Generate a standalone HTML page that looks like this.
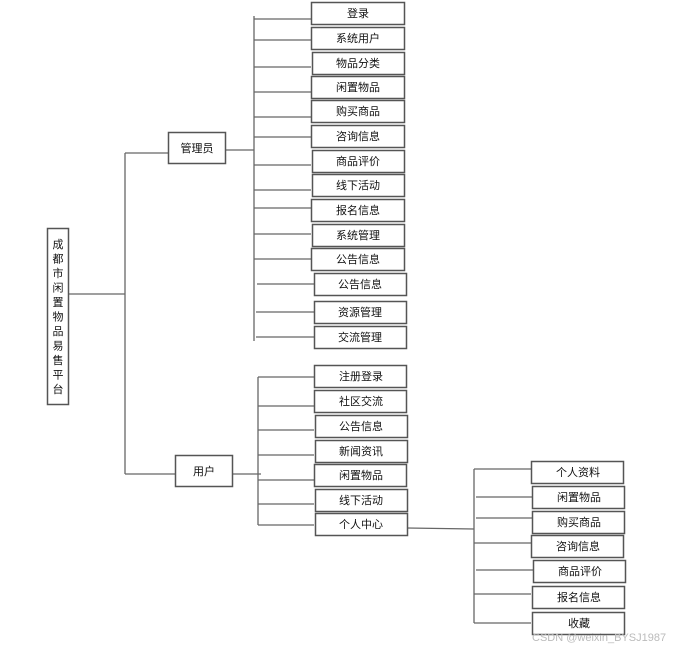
<!DOCTYPE html>
<html><head><meta charset="utf-8"><style>
html,body{margin:0;padding:0;background:#fff;}
svg{display:block;}
text{font-family:"Liberation Sans","Noto Sans CJK SC",sans-serif;font-size:11px;fill:#111;}
</style></head><body>
<svg width="684" height="650" viewBox="0 0 684 650" xmlns="http://www.w3.org/2000/svg">
<g stroke="#666" stroke-width="1.3" fill="none">
<!-- root -->
<line x1="68" y1="294" x2="125" y2="294"/>
<line x1="125" y1="153" x2="125" y2="474"/>
<line x1="125" y1="153" x2="168" y2="153"/>
<line x1="125" y1="474" x2="175" y2="474"/>
<!-- admin -->
<line x1="225" y1="150" x2="254" y2="150"/>
<line x1="254" y1="16" x2="254" y2="341"/>
<line x1="254" y1="19" x2="311" y2="19"/>
<line x1="254" y1="40" x2="311" y2="40"/>
<line x1="254" y1="67" x2="311" y2="67"/>
<line x1="254" y1="92" x2="311" y2="92"/>
<line x1="254" y1="117" x2="311" y2="117"/>
<line x1="254" y1="137" x2="311" y2="137"/>
<line x1="254" y1="165" x2="311" y2="165"/>
<line x1="254" y1="190" x2="311" y2="190"/>
<line x1="254" y1="208" x2="311" y2="208"/>
<line x1="254" y1="234" x2="311" y2="234"/>
<line x1="254" y1="259" x2="311" y2="259"/>
<line x1="257" y1="284" x2="314" y2="284"/>
<line x1="256" y1="312" x2="314" y2="312"/>
<line x1="256" y1="337" x2="314" y2="337"/>
<!-- user -->
<line x1="232" y1="474" x2="261" y2="474"/>
<line x1="258" y1="377" x2="258" y2="525"/>
<line x1="258" y1="377" x2="314" y2="377"/>
<line x1="258" y1="406" x2="314" y2="406"/>
<line x1="258" y1="430" x2="314" y2="430"/>
<line x1="258" y1="455" x2="314" y2="455"/>
<line x1="258" y1="480" x2="314" y2="480"/>
<line x1="258" y1="504" x2="314" y2="504"/>
<line x1="258" y1="525" x2="314" y2="525"/>
<!-- personal center -->
<line x1="407" y1="528" x2="474" y2="529"/>
<line x1="474" y1="469" x2="474" y2="623"/>
<line x1="474" y1="469" x2="531" y2="469"/>
<line x1="476" y1="497" x2="532" y2="497"/>
<line x1="476" y1="518" x2="532" y2="518"/>
<line x1="474" y1="543" x2="531" y2="543"/>
<line x1="476" y1="570" x2="533" y2="570"/>
<line x1="474" y1="594" x2="531" y2="594"/>
<line x1="474" y1="623" x2="531" y2="623"/>
</g>
<g stroke="#555" stroke-width="1.5" fill="#fff">
<rect x="47.5" y="228.5" width="21" height="176"/>
<rect x="168.5" y="132.5" width="57" height="31"/>
<rect x="175.5" y="455.5" width="57" height="31"/>
<rect x="311.5" y="2.5" width="93" height="22"/>
<rect x="311.5" y="27.5" width="93" height="22"/>
<rect x="312.5" y="52.5" width="92" height="22"/>
<rect x="311.5" y="76.5" width="93" height="22"/>
<rect x="311.5" y="100.5" width="93" height="22"/>
<rect x="311.5" y="125.5" width="93" height="22"/>
<rect x="312.5" y="150.5" width="92" height="22"/>
<rect x="312.5" y="174.5" width="92" height="22"/>
<rect x="311.5" y="199.5" width="93" height="22"/>
<rect x="312.5" y="224.5" width="92" height="22"/>
<rect x="311.5" y="248.5" width="93" height="22"/>
<rect x="314.5" y="273.5" width="92" height="22"/>
<rect x="314.5" y="301.5" width="92" height="22"/>
<rect x="314.5" y="326.5" width="92" height="22"/>
<rect x="314.5" y="365.5" width="92" height="22"/>
<rect x="314.5" y="390.5" width="92" height="22"/>
<rect x="315.5" y="415.5" width="92" height="22"/>
<rect x="315.5" y="440.5" width="92" height="22"/>
<rect x="314.5" y="464.5" width="92" height="22"/>
<rect x="315.5" y="489.5" width="92" height="22"/>
<rect x="315.5" y="513.5" width="92" height="22"/>
<rect x="531.5" y="461.5" width="92" height="22"/>
<rect x="532.5" y="486.5" width="92" height="22"/>
<rect x="532.5" y="511.5" width="92" height="22"/>
<rect x="531.5" y="535.5" width="92" height="22"/>
<rect x="533.5" y="560.5" width="92" height="22"/>
<rect x="532.5" y="586.5" width="92" height="22"/>
<rect x="532.5" y="612.5" width="92" height="22"/>
</g>
<g text-anchor="middle">
<text x="58" y="248">成</text>
<text x="58" y="262.5">都</text>
<text x="58" y="277">市</text>
<text x="58" y="291.5">闲</text>
<text x="58" y="306">置</text>
<text x="58" y="320.5">物</text>
<text x="58" y="335">品</text>
<text x="58" y="349.5">易</text>
<text x="58" y="364">售</text>
<text x="58" y="378.5">平</text>
<text x="58" y="393">台</text>
<text x="197" y="152">管理员</text>
<text x="204" y="475">用户</text>
<text x="358" y="17">登录</text>
<text x="358" y="42">系统用户</text>
<text x="358" y="67">物品分类</text>
<text x="358" y="91">闲置物品</text>
<text x="358" y="115">购买商品</text>
<text x="358" y="140">咨询信息</text>
<text x="358" y="165">商品评价</text>
<text x="358" y="189">线下活动</text>
<text x="358" y="214">报名信息</text>
<text x="358" y="239">系统管理</text>
<text x="358" y="263">公告信息</text>
<text x="360" y="288">公告信息</text>
<text x="360" y="316">资源管理</text>
<text x="360" y="341">交流管理</text>
<text x="361" y="380">注册登录</text>
<text x="361" y="405">社区交流</text>
<text x="361" y="430">公告信息</text>
<text x="361" y="455">新闻资讯</text>
<text x="361" y="479">闲置物品</text>
<text x="361" y="504">线下活动</text>
<text x="361" y="528">个人中心</text>
<text x="578" y="476">个人资料</text>
<text x="579" y="501">闲置物品</text>
<text x="579" y="526">购买商品</text>
<text x="578" y="550">咨询信息</text>
<text x="580" y="575">商品评价</text>
<text x="579" y="601">报名信息</text>
<text x="579" y="627">收藏</text>
</g>
<text x="532" y="641" style="font-size:11px;fill:#bbb;">CSDN @weixin_BYSJ1987</text>
</svg>
</body></html>
